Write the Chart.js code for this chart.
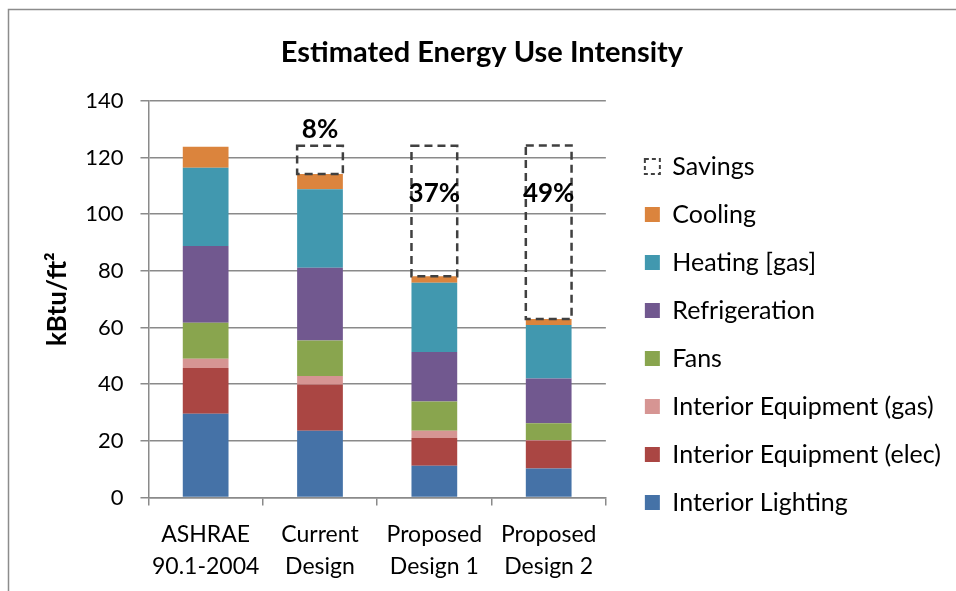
<!DOCTYPE html>
<html>
<head>
<meta charset="utf-8">
<script src="https://cdn.jsdelivr.net/npm/chart.js@4/dist/chart.umd.min.js"></script>
<style>
  html, body { margin: 0; padding: 0; background: #fff; }
  #wrap { width: 956px; height: 591px; position: relative; }
</style>
</head>
<body>
<div id="wrap"><canvas id="euiChart" width="956" height="591"></canvas></div>
<script>
// categories and series (kBtu/ft2)
const categories = [["ASHRAE", "90.1-2004"], ["Current", "Design"], ["Proposed", "Design 1"], ["Proposed", "Design 2"]];
const lighting   = [29.6, 23.6, 11.2, 10.3];
const equipElec  = [16.1, 16.3, 9.8, 9.8];
const equipGas   = [3.3, 3.0, 2.6, 0.2];
const fans       = [12.7, 12.5, 10.3, 5.9];
const refrig     = [27.1, 25.7, 17.5, 15.8];
const heating    = [27.6, 27.7, 24.4, 18.9];
const cooling    = [7.4, 5.4, 2.3, 2.1];
const savings    = [0, 9.9, 46.0, 61.2];
const savingsPct = ["", "8%", "37%", "49%"];
const yTicks     = [0, 20, 40, 60, 80, 100, 120, 140];

const fontFam = "Lato, 'Open Sans', sans-serif";
const gridGray = "#8a8a8a";

// dashed outline + percent text for the savings bars
const savingsPlugin = {
    id: 'savingsBoxes',
    afterDatasetsDraw(chart) {
        const meta = chart.getDatasetMeta(7);
        const ctx = chart.ctx;
        ctx.save();
        meta.data.forEach((bar, i) => {
            if (!savings[i]) return;
            const p = bar.getProps(['x', 'y', 'base', 'width'], true);
            const left = p.x - p.width / 2;
            ctx.setLineDash([8, 5]);
            ctx.lineWidth = 2.5;
            ctx.strokeStyle = '#404040';
            ctx.strokeRect(left, p.y, p.width, p.base - p.y);
            ctx.setLineDash([]);
            ctx.fillStyle = '#000';
            ctx.font = "bold 26px " + fontFam;
            ctx.textAlign = 'center';
            ctx.textBaseline = 'middle';
            const h = p.base - p.y;
            const ty = h > 60 ? p.y + 48 : p.y - 16;
            ctx.fillText(savingsPct[i], p.x, ty);
        });
        ctx.restore();
    }
};

// outer frame of the chart (only top and left edges visible)
const framePlugin = {
    id: 'frame',
    beforeDraw(chart) {
        const ctx = chart.ctx;
        ctx.save();
        ctx.strokeStyle = '#8c8c8c';
        ctx.lineWidth = 1.5;
        ctx.strokeRect(8.5, 9.5, 1200, 1200);
        ctx.restore();
    }
};

// nudge the legend away from the plot, as in the original
const legendShift = {
    id: 'legendShift',
    afterLayout(chart) {
        const lg = chart.legend;
        lg.left += 16; lg.right += 16;
        lg.top += 19; lg.bottom += 19;
    }
};

function ds(label, data, color) {
    return { label: label, data: data, backgroundColor: color, borderWidth: 0 };
}

const config = {
    type: 'bar',
    data: {
        labels: categories,
        datasets: [
            ds('Interior Lighting', lighting, '#4572A7'),
            ds('Interior Equipment (elec)', equipElec, '#AA4643'),
            ds('Interior Equipment (gas)', equipGas, '#D69593'),
            ds('Fans', fans, '#89A54E'),
            ds('Refrigeration', refrig, '#71588F'),
            ds('Heating [gas]', heating, '#4198AF'),
            ds('Cooling', cooling, '#DB843D'),
            ds('Savings', savings, 'rgba(0,0,0,0)')
        ]
    },
    options: {
        responsive: false,
        animation: false,
        events: [],
        datasets: { bar: { categoryPercentage: 1.0, barPercentage: 0.4 } },
        layout: { padding: { top: 35, left: 29, right: 21, bottom: -5 } },
        plugins: {
            title: {
                display: true,
                text: 'Estimated Energy Use Intensity',
                color: '#000',
                font: { family: fontFam, size: 29, weight: 'bold' },
                padding: { top: 0, bottom: 31 }
            },
            legend: {
                position: 'right',
                reverse: true,
                maxWidth: 400,
                labels: {
                    color: '#000',
                    font: { family: fontFam, size: 25 },
                    boxWidth: 15,
                    boxHeight: 15,
                    padding: 23,
                    generateLabels(chart) {
                        const items = Chart.defaults.plugins.legend.labels.generateLabels(chart);
                        items.forEach(it => {
                            if (it.text === 'Savings') {
                                it.fillStyle = 'rgba(0,0,0,0)';
                                it.strokeStyle = '#404040';
                                it.lineWidth = 2;
                                it.lineDash = [4, 3];
                            }
                        });
                        return items;
                    }
                }
            },
            tooltip: { enabled: false }
        },
        scales: {
            x: {
                stacked: true,
                offset: true,
                grid: { offset: true, drawOnChartArea: false, drawTicks: true, tickLength: 8, color: gridGray, lineWidth: 1.5 },
                border: { color: gridGray, width: 1.5 },
                ticks: { color: '#000', font: { family: fontFam, size: 23, lineHeight: 1.4 }, maxRotation: 0, autoSkip: false, padding: 13 }
            },
            y: {
                stacked: true,
                min: 0,
                max: 140,
                afterBuildTicks(axis) { axis.ticks = yTicks.map(v => ({ value: v })); },
                grid: { color: gridGray, lineWidth: 1.5, tickLength: 8 },
                border: { color: gridGray, width: 1.5 },
                ticks: { color: '#000', font: { family: fontFam, size: 22 }, padding: 17 },
                title: {
                    display: true,
                    text: 'kBtu/ft²',
                    color: '#000',
                    font: { family: fontFam, size: 26, weight: 'bold' },
                    padding: { top: 13, bottom: -5 }
                }
            }
        }
    },
    plugins: [framePlugin, legendShift, savingsPlugin]
};

var euiChart = new Chart(document.getElementById('euiChart'), config);
</script>
</body>
</html>
